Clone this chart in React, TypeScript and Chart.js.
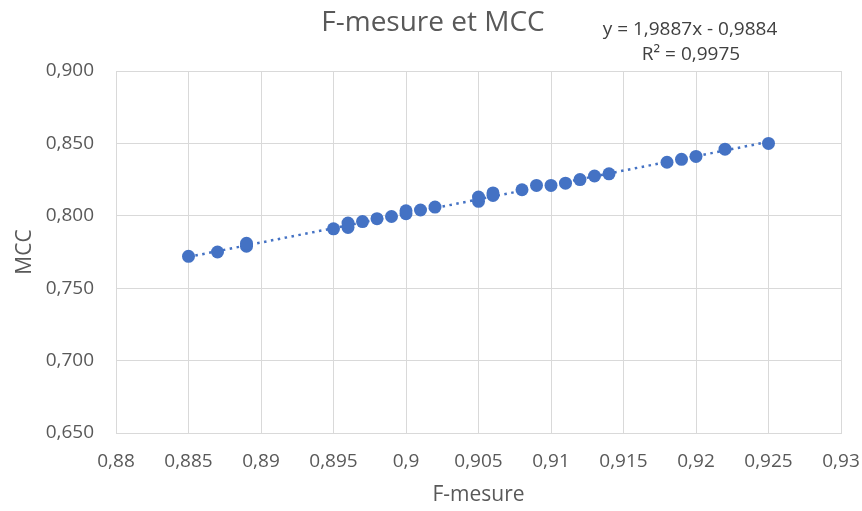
import React, { useEffect, useRef } from 'react';
import { Chart, registerables } from 'chart.js';

Chart.register(...registerables);

// ---- Data ----
const fMesure = [
  0.885, 0.887, 0.889, 0.889, 0.895, 0.896, 0.896, 0.897, 0.898, 0.899,
  0.9, 0.9, 0.901, 0.902, 0.905, 0.905, 0.906, 0.906, 0.908, 0.909,
  0.91, 0.911, 0.912, 0.913, 0.914, 0.918, 0.919, 0.92, 0.922, 0.925,
];
const mcc = [
  0.772, 0.775, 0.779, 0.781, 0.791, 0.792, 0.795, 0.796, 0.798, 0.7995,
  0.8015, 0.8035, 0.804, 0.806, 0.81, 0.813, 0.814, 0.8158, 0.818, 0.821,
  0.821, 0.8225, 0.825, 0.8275, 0.829, 0.837, 0.839, 0.841, 0.846, 0.85,
];
const trendX = [0.885, 0.925];
const trendY = [0.7716, 0.8511];

const chartTitle = 'F-mesure et MCC';
const equationLines = ['y = 1,9887x - 0,9884', 'R² = 0,9975'];
const xAxisTitle = 'F-mesure';
const yAxisTitle = 'MCC';
const xRange = [0.88, 0.93];
const xStep = 0.005;
const yRange = [0.65, 0.9];
const yStep = 0.05;

const FONT = '"Open Sans", sans-serif';
const GRAY = '#595959';
const BLUE = '#4472C4';
const GRID = '#d9d9d9';

const textOverlay = {
  id: 'textOverlay',
  afterDraw(chart: any) {
    const ctx = chart.ctx;
    ctx.save();
    ctx.textAlign = 'center';
    ctx.textBaseline = 'middle';
    ctx.fillStyle = GRAY;
    ctx.font = `28px ${FONT}`;
    ctx.fillText(chartTitle, 433, 23);
    ctx.fillStyle = '#404040';
    ctx.font = `19px ${FONT}`;
    ctx.fillText(equationLines[0], 690, 30);
    ctx.fillText(equationLines[1], 691, 55);
    ctx.restore();
  },
};

export default function App() {
  const ref = useRef<HTMLCanvasElement | null>(null);

  useEffect(() => {
    if (!ref.current) return;
    const chart = new Chart(ref.current, {
      type: 'scatter',
      data: {
        datasets: [
          {
            type: 'line',
            label: 'Trend',
            data: trendX.map((x, i) => ({ x, y: trendY[i] })),
            borderColor: BLUE,
            borderWidth: 2.5,
            borderDash: [2.5, 4.5],
            pointRadius: 0,
            fill: false,
            order: 2,
          },
          {
            label: 'MCC',
            data: fMesure.map((x, i) => ({ x, y: mcc[i] })),
            backgroundColor: BLUE,
            borderColor: BLUE,
            pointRadius: 6.5,
            pointBorderWidth: 0,
            order: 1,
          },
        ],
      },
      options: {
        animation: false,
        responsive: false,
        devicePixelRatio: 1,
        layout: { padding: { top: 71, right: 21, left: 0, bottom: 0 } },
        plugins: {
          legend: { display: false },
          tooltip: { enabled: false },
          title: { display: false },
        },
        scales: {
          x: {
            type: 'linear',
            min: xRange[0],
            max: xRange[1],
            ticks: {
              stepSize: xStep,
              color: GRAY,
              font: { family: FONT, size: 19 },
              padding: 17,
              maxRotation: 0,
              callback: (v: any) => Number(Number(v).toFixed(3)).toString().replace('.', ','),
            },
            grid: { color: GRID, lineWidth: 1, drawTicks: false },
            border: { color: GRID },
            title: {
              display: true,
              text: xAxisTitle,
              color: GRAY,
              font: { family: FONT, size: 21 },
              padding: { top: 0, bottom: 3 },
            },
            afterFit: (s: any) => {
              s.height = 78;
              s.paddingLeft = 0;
              s.paddingRight = 0;
            },
          },
          y: {
            type: 'linear',
            min: yRange[0],
            max: yRange[1],
            ticks: {
              stepSize: yStep,
              color: GRAY,
              font: { family: FONT, size: 19 },
              padding: 22,
              callback: (v: any) => Number(v).toFixed(3).replace('.', ','),
            },
            grid: { color: GRID, lineWidth: 1, drawTicks: false },
            border: { color: GRID },
            title: {
              display: true,
              text: yAxisTitle,
              color: GRAY,
              font: { family: FONT, size: 21 },
              padding: { top: 12, bottom: 0 },
            },
            afterFit: (s: any) => {
              s.width = 116;
              s.paddingTop = 0;
              s.paddingBottom = 0;
            },
          },
        },
      },
      plugins: [textOverlay],
    });
    return () => chart.destroy();
  }, []);

  return (
    <div style={{ position: 'absolute', left: 0, top: 0, width: 862, height: 511, background: '#fff' }}>
      <canvas ref={ref} width={862} height={511} />
    </div>
  );
}
